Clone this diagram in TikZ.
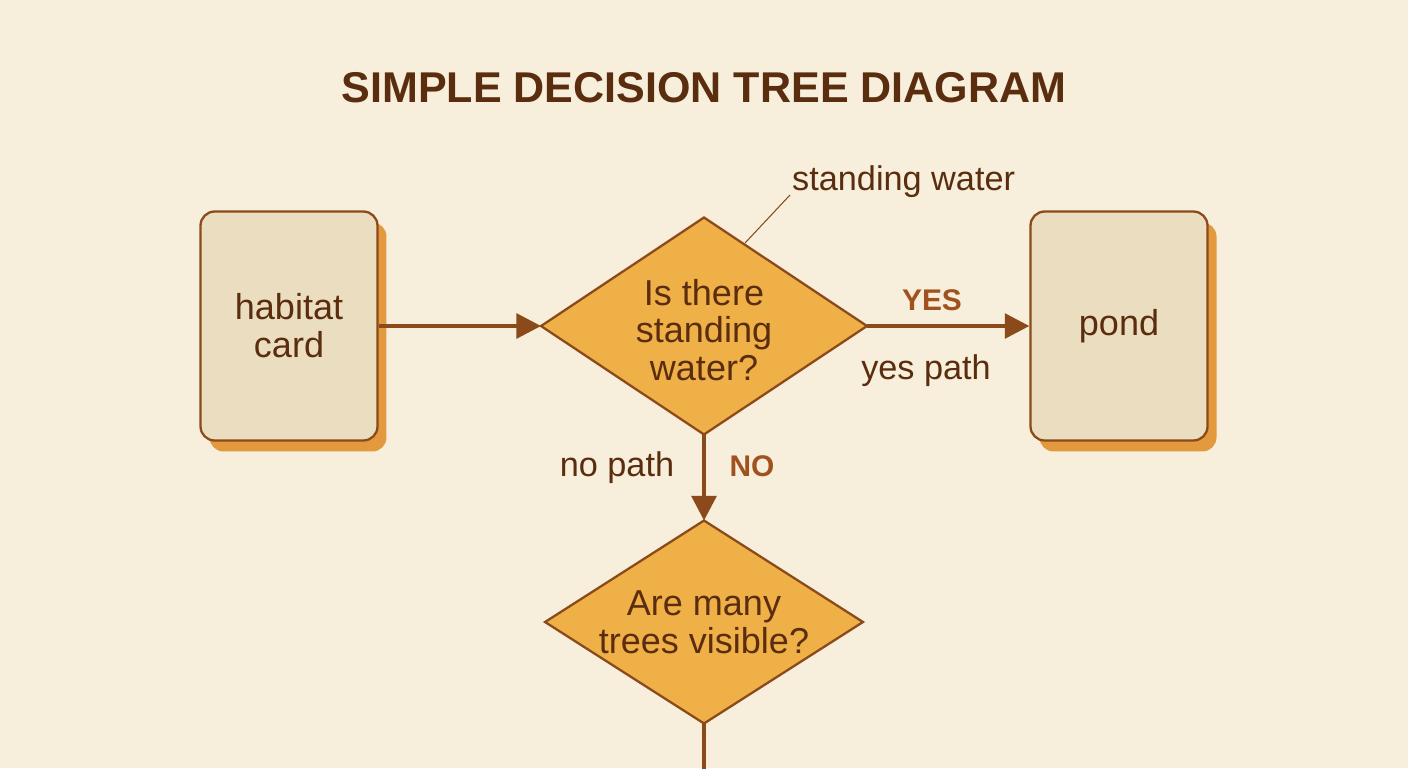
\documentclass[tikz,border=0pt]{standalone}
\usepackage{fontspec}
\setmainfont{Liberation Sans}
\usetikzlibrary{shapes.geometric,arrows.meta}
\definecolor{bg}{HTML}{F7EEDC}
\definecolor{dk}{HTML}{5A2D0E}
\definecolor{ln}{HTML}{8B4A1A}
\definecolor{cardf}{HTML}{EBDDC0}
\definecolor{shad}{HTML}{E39A3E}
\definecolor{dia}{HTML}{F0B048}
\definecolor{yes}{HTML}{A0521E}
\begin{document}
\begin{tikzpicture}[x=0.02cm,y=-0.02cm,
 card/.style={draw=ln,fill=cardf,line width=1.3pt,rounded corners=8pt,minimum width=3.54cm,minimum height=4.58cm,font=\fontsize{20.5}{21.5}\selectfont,text=dk,align=center},
 shadow/.style={fill=shad,rounded corners=8pt,minimum width=3.54cm,minimum height=4.58cm},
 dec/.style={diamond,draw=ln,fill=dia,line width=1.3pt,inner sep=0pt,outer sep=0pt},
 dtext/.style={font=\fontsize{20.5}{21.5}\selectfont,text=dk,align=center},
 arr/.style={draw=ln,line width=2.3pt,-{Triangle[length=14pt,width=14pt]}},
 lab/.style={font=\fontsize{19.5}{23}\selectfont,text=dk}]
\fill[bg] (0,0) rectangle (1408,768);
\useasboundingbox (0,0) rectangle (1408,768);
\node[font=\bfseries\fontsize{24.5}{28}\selectfont,text=dk] (title) at (704,88) {SIMPLE DECISION TREE DIAGRAM};
\node[shadow] at (298,337) {};
\node[card] (hab) at (289,326) {habitat\\card};
\node[shadow] at (1128,337) {};
\node[card] (pond) at (1119,326) {pond};
\node[dec,minimum width=6.52cm,minimum height=4.34cm] (d1) at (704,326) {};
\node[dtext] (t1) at (704,330) {Is there\\standing\\water?};
\node[dec,minimum width=6.36cm,minimum height=4.06cm] (d2) at (704,622) {};
\node[dtext] (t2) at (d2) {Are many\\trees visible?};
\draw[arr] (hab.east) -- (d1.west);
\draw[arr] (d1.east) -- (pond.west);
\draw[arr] (d1.south) -- (d2.north);
\coordinate (end) at (704,770);
\draw[ln,line width=2.3pt] (d2.south) -- (end);
\node[font=\bfseries\fontsize{17}{20}\selectfont,text=yes] (yl) at (932,300) {YES};
\node[lab] (yp) at (926,371) {yes path};
\node[lab] (np) at (617,468) {no path};
\node[font=\bfseries\fontsize{17}{20}\selectfont,text=yes] (nl) at (752,466) {NO};
\node[lab,anchor=west] (sw) at (786,182) {standing water};
\coordinate (cp) at (745,243);
\draw[ln,line width=0.6pt] (cp) -- (790,195);
\end{tikzpicture}
\end{document}
